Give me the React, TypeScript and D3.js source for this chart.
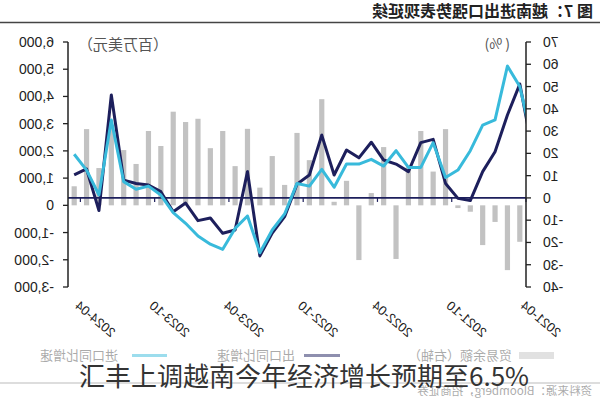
import React from "react";
import * as d3 from "d3";

// Months shown on the category axis (chronological)
const months = [
  "2021-04","2021-05","2021-06","2021-07","2021-08","2021-09","2021-10","2021-11","2021-12",
  "2022-01","2022-02","2022-03","2022-04","2022-05","2022-06","2022-07","2022-08","2022-09",
  "2022-10","2022-11","2022-12","2023-01","2023-02","2023-03","2023-04","2023-05","2023-06",
  "2023-07","2023-08","2023-09","2023-10","2023-11","2023-12","2024-01","2024-02","2024-03","2024-04",
];
// line series start one month earlier (partially clipped at the axis)
const lineMonths = ["2021-03", ...months];

// 贸易余额 (百万美元)
const balance = [
  -1340, -2380, -610, -1460, -235, -100, 2800, 1240, 2730, 1400, -1970, 2140, 450, -2010, 900, 130,
  3900, 1660, 2660, 750, 1810, 650, 2810, 1440, 2730, 2100, 3180, 3060, 3440, 2180, 2730, 1520,
  2030, 2900, 1370, 2800, 700,
];
// 出口同比增速 (%)
const exportYoY = [
  22, 51.1, 37.2, 20.7, 11.8, -1.2, -0.2, 6.5, 26.3, 24.8, 11.8, 15.2, 17, 25, 18, 21.5, 10.3, 28.2,
  10.3, 6.2, -8.4, -15.8, -26, 11.8, -14.4, -15.9, -9, -10.2, -2.3, -6.2, 2.8, 5.8, 6.5, 8, 46.2,
  -5.7, 13, 10.3,
];
// 进口同比增速 (%)
const importYoY = [
  26, 50, 59.2, 35, 32.7, 21.2, 12.5, 9.2, 24.8, 13.7, 13.7, 21.2, 14.3, 17.3, 15.2, 15.2, 4.8, 12.8,
  5.3, 6.5, -7.2, -14.4, -24.6, -8.1, -13.7, -23.1, -20.8, -17.1, -11.4, -6.6, 1.3, 5.3, 3.9, 7.3,
  35, 1.3, 12.5, 19.6,
];

const pctTicks = [70, 60, 50, 40, 30, 20, 10, 0, -10, -20, -30, -40];
const moneyTicks = [6000, 5000, 4000, 3000, 2000, 1000, 0, -1000, -2000, -3000];
const xLabelMonths = ["2021-04", "2021-10", "2022-04", "2022-10", "2023-04", "2023-10", "2024-04"];

const title = "图 7：越南进出口强势表现延续";
const caption = "汇丰上调越南今年经济增长预期至6.5%";
const source = "资料来源：Bloomberg，招商证券";
const legendItems = ["贸易余额（右轴）", "出口同比增速", "进口同比增速"];

const NAVY = "#1d1f5c";
const CYAN = "#38badb";
const GRAY = "#c2c2c2";
const LATIN = "'Liberation Sans', Arial, sans-serif";
const CJK = "'Noto Sans CJK SC', sans-serif";

export default function App() {
  const left = 74, right = 532, top = 42, bottom = 287;
  const xEdge = d3.scaleLinear().domain([0, months.length]).range([left, right]);
  const step = xEdge(1) - xEdge(0);
  const cx = (c: number) => xEdge(c + 0.5);
  const yPct = d3.scaleLinear().domain([-40, 70]).range([bottom, top]);
  const yMoney = d3.scaleLinear().domain([-3000, 6000]).range([bottom, top]);
  const lineGen = d3
    .line<number>()
    .x((_, i) => cx(i - 1 - (lineMonths.length - months.length - 1)))
    .y((d) => yPct(d));
  const fmt = (v: number) => d3.format(",")(v).replace("\u2212", "-");
  const barW = step * 0.42;

  return (
    <svg
      width={600}
      height={400}
      style={{ position: "absolute", left: 0, top: 0, background: "#fff" }}
    >
      <defs>
        <clipPath id="plotClip">
          <rect x={left} y={0} width={right - left} height={400} />
        </clipPath>
      </defs>
      <rect x={0} y={0} width={600} height={400} fill="#fff" />
      <g transform="translate(600,0) scale(-1,1)">
        {/* title */}
        <text x={7} y={17} fontFamily={CJK} fontSize={16} fontWeight={700} fill="#222">
          {title}
        </text>
        <line x1={0} x2={600} y1={22.5} y2={22.5} stroke="#444" strokeWidth={1.6} />

        {/* units */}
        <text x={90} y={49} fontFamily={CJK} fontSize={14} fill="#555">
          ( %)
        </text>
        <text x={522} y={50} textAnchor="end" fontFamily={CJK} fontSize={15} fill="#555">
          （百万美元）
        </text>

        {/* bars */}
        {balance.map((v, c) => (
          <rect
            key={months[c]}
            x={cx(c) - barW / 2}
            y={Math.min(yMoney(v), yMoney(0))}
            width={barW}
            height={Math.abs(yMoney(v) - yMoney(0))}
            fill={GRAY}
          />
        ))}

        {/* category axis at 0% */}
        <line x1={left} x2={right} y1={yPct(0)} y2={yPct(0)} stroke={NAVY} strokeWidth={1.6} />
        {xLabelMonths.map((m) => {
          const c = months.indexOf(m);
          return (
            <line key={"t" + m} x1={xEdge(c)} x2={xEdge(c)} y1={yPct(0)} y2={yPct(0) + 4} stroke={NAVY} strokeWidth={1.2} />
          );
        })}

        {/* lines */}
        <g clipPath="url(#plotClip)">
          <path d={lineGen(exportYoY) || ""} fill="none" stroke={NAVY} strokeWidth={3} strokeLinejoin="round" />
          <path d={lineGen(importYoY) || ""} fill="none" stroke={CYAN} strokeWidth={3} strokeLinejoin="round" />
        </g>

        {/* left % axis */}
        <line x1={left} x2={left} y1={top} y2={bottom} stroke="#222" strokeWidth={1.5} />
        {pctTicks.map((t) => (
          <g key={"p" + t}>
            <line x1={left - 5} x2={left} y1={yPct(t)} y2={yPct(t)} stroke="#222" strokeWidth={1.3} />
            <text x={57} y={yPct(t) + 5} textAnchor="end" fontFamily={LATIN} fontSize={14} fill="#222">
              {t}
            </text>
          </g>
        ))}

        {/* right money axis */}
        <line x1={right} x2={right} y1={top} y2={bottom} stroke="#222" strokeWidth={1.5} />
        {moneyTicks.map((t) => (
          <g key={"m" + t}>
            <line x1={right} x2={right + 5} y1={yMoney(t)} y2={yMoney(t)} stroke="#222" strokeWidth={1.3} />
            <text x={546} y={yMoney(t) + 5} fontFamily={LATIN} fontSize={14} fill="#222">
              {fmt(t)}
            </text>
          </g>
        ))}

        {/* x labels */}
        {xLabelMonths.map((m) => {
          const c = months.indexOf(m);
          const x = cx(c);
          return (
            <text
              key={"l" + m}
              x={x}
              y={307}
              transform={`rotate(-40 ${x} 307)`}
              textAnchor="end"
              fontFamily={LATIN}
              fontSize={13}
              fill="#222"
            >
              {m}
            </text>
          );
        })}

        {/* legend */}
        <rect x={46} y={352} width={35} height={7} fill={GRAY} />
        <text x={88} y={360} fontFamily={CJK} fontSize={13} fill="#555">
          {legendItems[0]}
        </text>
        <line x1={260} x2={296} y1={355.5} y2={355.5} stroke={NAVY} strokeWidth={3} />
        <text x={305} y={360} fontFamily={CJK} fontSize={13} fill="#555">
          {legendItems[1]}
        </text>
        <line x1={433} x2={468} y1={355.5} y2={355.5} stroke={CYAN} strokeWidth={3} />
        <text x={482} y={360} fontFamily={CJK} fontSize={13} fill="#555">
          {legendItems[2]}
        </text>

        <line x1={0} x2={600} y1={383} y2={383} stroke="#777" strokeWidth={1.2} />
        <text x={8} y={395} fontFamily={CJK} fontSize={11.5} fill="#555">
          {source}
        </text>

        <rect x={0} y={347} width={600} height={53} fill="#fff" opacity={0.5} />
      </g>

      {/* overlay caption (not mirrored) */}
      <text x={79} y={386} fontFamily={CJK} fontSize={26} fill="#333">
        {caption}
      </text>
    </svg>
  );
}
